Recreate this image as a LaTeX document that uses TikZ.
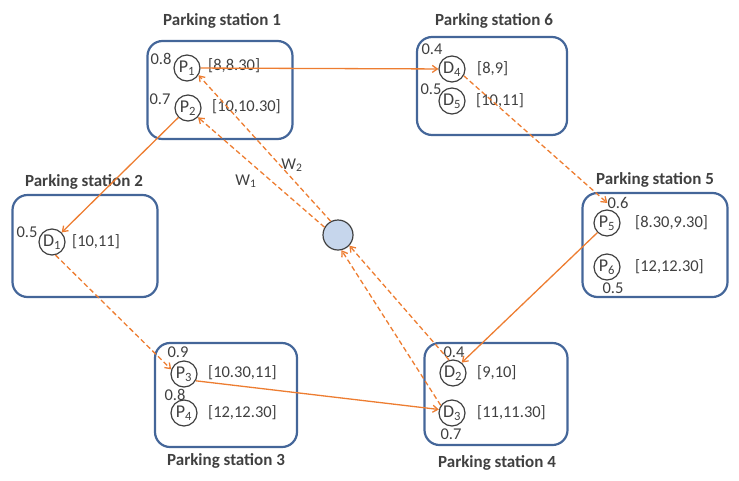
\documentclass[tikz,border=0pt]{standalone}
\usepackage{fontspec}
\setmainfont{Carlito}
\usepackage{xcolor}
\usetikzlibrary{arrows.meta, positioning}

\definecolor{boxblue}{RGB}{68,102,153}
\definecolor{tripor}{RGB}{237,125,49}
\definecolor{txtgray}{RGB}{64,64,64}
\definecolor{depotfill}{RGB}{198,214,236}

\newcommand{\bigtxt}{\fontsize{16.5}{19}\selectfont}

\tikzset{
  station/.style={draw=boxblue, line width=2.2pt, rounded corners=15pt,
    minimum width=145pt, minimum height=98pt},
  title/.style={font=\fontsize{17}{20}\selectfont\bfseries, text=txtgray, inner sep=0pt},
  req/.style={circle, draw=txtgray, line width=1.2pt, inner sep=0pt,
    minimum size=26pt, font=\fontsize{18}{20}\selectfont, text=txtgray},
  prob/.style={font=\bigtxt, text=txtgray, inner sep=0pt},
  slot/.style={font=\bigtxt, text=txtgray, inner sep=0pt, anchor=west},
  trip/.style={draw=tripor, line width=1.3pt, -{Straight Barb[length=5pt,width=7pt]}},
  empty/.style={trip, dash pattern=on 5pt off 3pt},
}

\begin{document}
\begin{tikzpicture}[x=1pt, y=-1pt]
    \useasboundingbox (0,0) rectangle (739,480);

    % 停车站
    \node[station] (S1) at (220,90) {};
    \node[title] (T1) at (222,21) {Parking station 1};
    \node[station, minimum width=150pt] (S6) at (492,86) {};
    \node[title] (T6) at (494,21) {Parking station 6};
    \node[station, minimum height=102pt] (S2) at (85,246) {};
    \node[title] (T2) at (84,182) {Parking station 2};
    \node[station, minimum height=104pt] (S5) at (655,245) {};
    \node[title] (T5) at (655,180) {Parking station 5};
    \node[station, minimum width=142pt, minimum height=104pt] (S3) at (226,395) {};
    \node[title] (T3) at (226,461) {Parking station 3};
    \node[station, minimum width=143pt, minimum height=102pt] (S4) at (496,394) {};
    \node[title] (T4) at (497,463) {Parking station 4};

    % 站点1
    \node[req] (P1) at (187,68) {P\textsubscript{1}};
    \node[prob] (pr1) at (161,59) {0.8};
    \node[slot] (t1) at (208,66) {[8,8.30]};
    \node[req] (P2) at (188,108) {P\textsubscript{2}};
    \node[prob] (pr2) at (160,99) {0.7};
    \node[slot] (t2) at (212,107) {[10,10.30]};

    % 站点6
    \node[req] (D4) at (452,69) {D\textsubscript{4}};
    \node[prob] (dr4) at (432,49) {0.4};
    \node[slot] (s4) at (477,69) {[8,9]};
    \node[req] (D5) at (452,101) {D\textsubscript{5}};
    \node[prob] (dr5) at (431,89) {0.5};
    \node[slot] (s5) at (476,101) {[10,11]};

    % 站点2
    \node[req] (D1) at (52,242) {D\textsubscript{1}};
    \node[prob] (dr1) at (27,232) {0.5};
    \node[slot] (s1) at (72,242) {[10,11]};

    % 站点5
    \node[req] (P5) at (607,223) {P\textsubscript{5}};
    \node[prob] (pr5) at (618,203) {0.6};
    \node[slot] (t5) at (635,223) {[8.30,9.30]};
    \node[req] (P6) at (607,267) {P\textsubscript{6}};
    \node[prob] (pr6) at (613,288) {0.5};
    \node[slot] (t6) at (635,267) {[12,12.30]};

    % 站点3
    \node[req] (P3) at (184,374) {P\textsubscript{3}};
    \node[prob] (pr3) at (178,352) {0.9};
    \node[slot] (t3) at (208,373) {[10.30,11]};
    \node[req] (P4) at (184,413) {P\textsubscript{4}};
    \node[prob] (pr4) at (175,395) {0.8};
    \node[slot] (t4) at (208,413) {[12,12.30]};

    % 站点4
    \node[req] (D2) at (453,373) {D\textsubscript{2}};
    \node[prob] (dr2) at (454,352) {0.4};
    \node[slot] (s2) at (477,373) {[9,10]};
    \node[req] (D3) at (452,413) {D\textsubscript{3}};
    \node[prob] (dr3) at (451,434) {0.7};
    \node[slot] (s3) at (477,413) {[11,11.30]};

    % 车库
    \node[circle, draw=txtgray, fill=depotfill, line width=1.2pt,
      minimum size=30pt, inner sep=0pt] (depot) at (338,235) {};

    % 载客行程
    \draw[trip] (P1) -- (D4);
    \draw[trip] (P2) -- (D1);
    \draw[trip] (P3.-30) -- (D3.165);
    \draw[trip] (P5.-135) -- (D2.50);

    % 空驶
    \draw[empty] (D1.-75) -- (P3.160);
    \draw[empty] (D4.-30) -- (pr5.west);
    \draw[empty] (D2.107) -- (depot.-43);
    \draw[empty] (D3.146) -- (depot.-77);
    \draw[empty] (depot.118) -- (P1.-32);
    \draw[empty] (depot.150) -- (P2.-43);
    \node[prob] (w1) at (246,181) {W\textsubscript{1}};
    \node[prob] (w2) at (292,165) {W\textsubscript{2}};
\end{tikzpicture}
\end{document}
